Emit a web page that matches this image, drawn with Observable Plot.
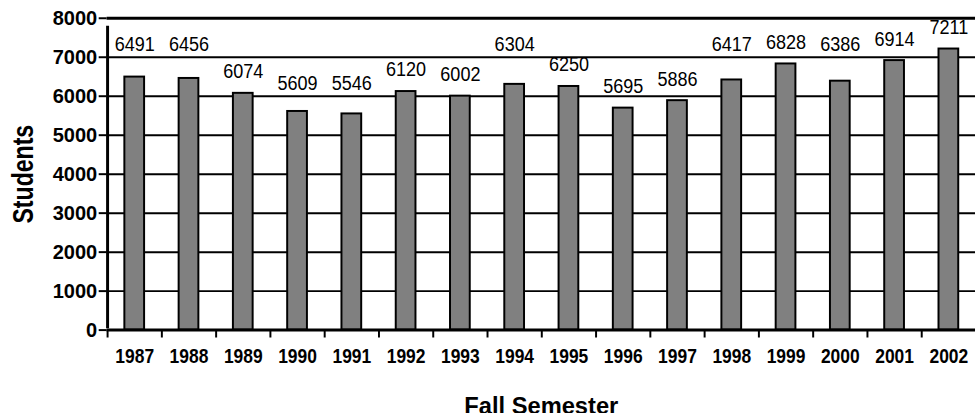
<!DOCTYPE html>
<html><head><meta charset="utf-8">
<script src="https://cdn.jsdelivr.net/npm/d3@7"></script>
<script src="https://cdn.jsdelivr.net/npm/@observablehq/plot@0.6"></script>
<style>
html,body{margin:0;padding:0;overflow:hidden;background:#fff;}
</style></head><body><div id="chart"></div>
<script>
const years = ["1987","1988","1989","1990","1991","1992","1993","1994","1995","1996","1997","1998","1999","2000","2001","2002"];
const students = [6491,6456,6074,5609,5546,6120,6002,6304,6250,5695,5886,6417,6828,6386,6914,7211];
const yTicks = [0,1000,2000,3000,4000,5000,6000,7000,8000];
const xTitle = "Fall Semester";
const yTitle = "Students";

const W = 990, H = 418, ML = 108, MR = 2, MT = 18, MB = 84;
const data = years.map((y, i) => ({year: y, students: students[i]}));
const step = (W - ML - MR) / years.length;
const font = "'Liberation Sans',Arial,sans-serif";

// value labels sit above each bar, nudged into the gap above a gridline they would cross
const pxU = (yTicks[yTicks.length - 1] - yTicks[0]) / (H - MT - MB);
function labelCenter(v) {
  let c = v + 22 * pxU;
  const half = 7.5 * pxU;
  const g = yTicks.find(t => t > c - half && t < c + half);
  if (g !== undefined) c = g + 13 * pxU;
  return c;
}

const chart = Plot.plot({
  width: W, height: H,
  marginLeft: ML, marginRight: MR, marginTop: MT, marginBottom: MB,
  style: {background: "#fff", color: "#000", overflow: "visible", fontFamily: font},
  x: {type: "band", domain: years, paddingInner: 0.64, paddingOuter: 0.32, label: null},
  y: {domain: [0, 8000], label: null},
  marks: [
    Plot.ruleY(yTicks.filter(d => d > 0 && d < 8000), {y: d => d, stroke: "#000", strokeWidth: 2}),
    Plot.ruleY([yTicks[yTicks.length - 1]], {stroke: "#000", strokeWidth: 3}),
    Plot.barY(data, {x: "year", y: "students", fill: "#808080", stroke: "#000", strokeWidth: 2}),
    Plot.ruleY([0], {stroke: "#000", strokeWidth: 3}),
    Plot.ruleX(years, {x: d => d, y1: 0, y2: 0, dx: -step / 2, insetBottom: -8, stroke: "#000", strokeWidth: 2}),
    Plot.ruleX([years[0]], {x: d => d, y1: 0, y2: 8000, dx: -step / 2, insetBottom: -8, insetTop: -1.5, stroke: "#000", strokeWidth: 3}),
    Plot.axisY({ticks: yTicks, tickSize: 8, tickPadding: 2, tickFormat: d => String(d), strokeWidth: 2,
      fontSize: 20.3, fontWeight: "bold", label: null}),
    Plot.axisX({tickSize: 0, tickPadding: 19, fontSize: 20.3, fontWeight: "bold", label: null}),
    Plot.text(data, {x: "year", y: d => labelCenter(d.students), text: d => String(d.students), lineAnchor: "middle",
      fontSize: 21, fill: "#000"}),
    Plot.text([yTitle], {frameAnchor: "left", textAnchor: "middle", dx: -84.6, rotate: -90, lineAnchor: "middle",
      fontSize: 30, fontWeight: "bold", fill: "#000"}),
    Plot.text([xTitle], {frameAnchor: "bottom", textAnchor: "middle", dy: 77, lineAnchor: "middle",
      fontSize: 24, fontWeight: "bold", fill: "#000"})
  ]
});
document.getElementById("chart").appendChild(chart);

// horizontal condensing of the narrow typeface used in the original
function condense(elements, k) {
  elements.forEach(el => {
    const t = el.getAttribute("transform") || "";
    el.setAttribute("transform", `${t} scale(${k},1)`);
  });
}
const textGroups = chart.querySelectorAll('g[aria-label="text"]');
condense(chart.querySelectorAll('g[aria-label="x-axis tick label"] text'), 0.87);
if (textGroups[0]) condense(textGroups[0].querySelectorAll("text"), 0.87);
if (textGroups[1]) condense(textGroups[1].querySelectorAll("text"), 0.78);
</script>
</body></html>
